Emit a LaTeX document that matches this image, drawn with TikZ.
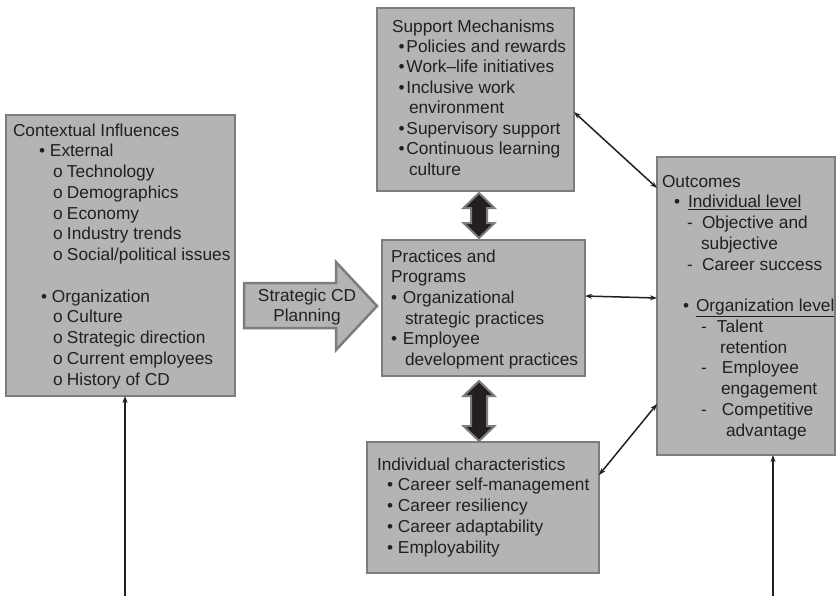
\documentclass[tikz,border=0pt]{standalone}
\usepackage{fontspec}
\setmainfont{Liberation Sans}
\usetikzlibrary{arrows.meta,calc}
\definecolor{boxfill}{RGB}{179,180,182}
\definecolor{boxline}{RGB}{125,125,127}
\definecolor{ink}{RGB}{35,31,32}
\newcommand\myL[2]{\hbox{\hspace*{#1pt}#2}}
\newcommand\myB[4]{\hbox{\hspace*{#1pt}\makebox[#2pt][l]{#3}#4}}
\newcommand\myC[1]{\hbox{\makebox[0pt]{#1}}}
\begin{document}
\begin{tikzpicture}[x=1pt,y=-1pt,
  font=\fontsize{17.3}{20.75}\selectfont, text=ink,
  box/.style={draw=boxline, fill=boxfill, line width=2.5pt, anchor=north west, inner sep=0pt, outer sep=0pt},
  txt/.style={anchor=base west, inner sep=0pt, outer sep=0pt},
  link/.style={{Stealth[length=7pt,width=5pt]}-{Stealth[length=7pt,width=5pt]}, line width=1.5pt, draw=ink},
  uparrow/.style={-{Stealth[length=7pt,width=5pt]}, line width=2.2pt, draw=ink},
  dblarrow/.style={fill=ink, draw=boxline, line width=2pt, line join=miter},
  bigarrow/.style={fill=boxfill, draw=boxline, line width=2.5pt, line join=miter}]
\useasboundingbox (0,0) rectangle (837,595);
\fill[white] (0,0) rectangle (837,595);

% boxes
\node[box, minimum width=229pt, minimum height=281pt] (ctx) at (6,115) {};
\node[box, minimum width=197pt, minimum height=183pt] (sup) at (377,8) {};
\node[box, minimum width=203pt, minimum height=136pt] (prac) at (382,240) {};
\node[box, minimum width=232pt, minimum height=131pt] (ind) at (367,442) {};
\node[box, minimum width=178pt, minimum height=298pt] (out) at (657,157) {};

% strategic planning arrow
\draw[bigarrow] (244,283) -- (336,283) -- (336,262) -- (377,306) -- (336,350) -- (336,328) -- (244,328) -- cycle;
\node[anchor=base, inner sep=0pt] (stxt) at (307,301) {\vtop{\baselineskip=20.5pt \myC{Strategic CD}\myC{Planning}}};

% double arrows
\coordinate (da1) at (479,193);
\coordinate (da2) at (479,238);
\draw[dblarrow] (da1) -- ++(15.5,15) -- ++(-7.5,0) -- ($(da2)+(8,-15)$) -- ++(7.5,0) -- (da2)
  -- ++(-15.5,-15) -- ++(7.5,0) -- ($(da1)+(-8,15)$) -- ++(-7.5,0) -- cycle;
\coordinate (db1) at (479,381);
\coordinate (db2) at (479,441);
\draw[dblarrow] (db1) -- ++(15.5,15) -- ++(-7.5,0) -- ($(db2)+(8,-15)$) -- ++(7.5,0) -- (db2)
  -- ++(-15.5,-15) -- ++(7.5,0) -- ($(db1)+(-8,15)$) -- ++(-7.5,0) -- cycle;

% connectors
\draw[link] ([yshift=-12.5pt]sup.east) -- ([yshift=118pt]out.west);
\draw[link] ([yshift=12pt]prac.east) -- ([yshift=8pt]out.west);
\draw[link] ([yshift=32.5pt]ind.east) -- ([yshift=-98pt]out.west);
\coordinate (b1) at (125,600);
\coordinate (b2) at (773,600);
\draw[uparrow] (b1) -- ([xshift=4.5pt]ctx.south);
\draw[uparrow, line width=1.8pt] (b2) -- ([xshift=27pt]out.south);

% texts
\node[txt] (ctxt) at (13,136) {\vtop{\baselineskip=20.75pt
  \myL{0}{Contextual Influences}
  \myB{26}{11}{•}{External}
  \myB{40}{14}{o}{Technology}
  \myB{40}{14}{o}{Demographics}
  \myB{40}{14}{o}{Economy}
  \myB{40}{14}{o}{Industry trends}
  \myB{40}{14}{o}{Social/political issues}
  \hbox{}
  \myB{28}{11}{•}{Organization}
  \myB{40}{14}{o}{Culture}
  \myB{40}{14}{o}{Strategic direction}
  \myB{40}{14}{o}{Current employees}
  \myB{40}{14}{o}{History of CD}}};

\node[txt] (stext) at (392,32) {\vtop{\baselineskip=20.45pt
  \myL{0}{Support Mechanisms}
  \myB{6.5}{8}{•}{Policies and rewards}
  \myB{6.5}{8}{•}{Work–life initiatives}
  \myB{6.5}{8}{•}{Inclusive work}
  \myL{17}{environment}
  \myB{6.5}{8}{•}{Supervisory support}
  \myB{6.5}{8}{•}{Continuous learning}
  \myL{17}{culture}}};

\node[txt] (ptext) at (391,262) {\vtop{\baselineskip=20.7pt
  \myL{0}{Practices and}
  \myL{0}{Programs}
  \myB{0}{12}{•}{Organizational}
  \myL{14}{strategic practices}
  \myB{0}{12}{•}{Employee}
  \myL{14}{development practices}}};

\node[txt] (itext) at (377,470) {\vtop{\baselineskip=20.75pt
  \myL{0}{Individual characteristics}
  \myB{10}{11}{•}{Career self-management}
  \myB{10}{11}{•}{Career resiliency}
  \myB{10}{11}{•}{Career adaptability}
  \myB{10}{11}{•}{Employability}}};

\node[txt] (otext) at (662,187) {\vtop{\baselineskip=20.75pt
  \myL{0}{Outcomes}
  \myB{12}{14}{•}{\underline{Individual level}}
  \myB{25}{15}{-}{Objective and}
  \myL{39}{subjective}
  \myB{25}{15}{-}{Career success}
  \hbox{}
  \myB{21}{13}{•}{\underline{Organization level}}
  \myB{39}{16}{-}{Talent}
  \myL{58}{retention}
  \myB{39}{21}{-}{Employee}
  \myL{59}{engagement}
  \myB{39}{21}{-}{Competitive}
  \myL{64}{advantage}}};
\end{tikzpicture}
\end{document}
